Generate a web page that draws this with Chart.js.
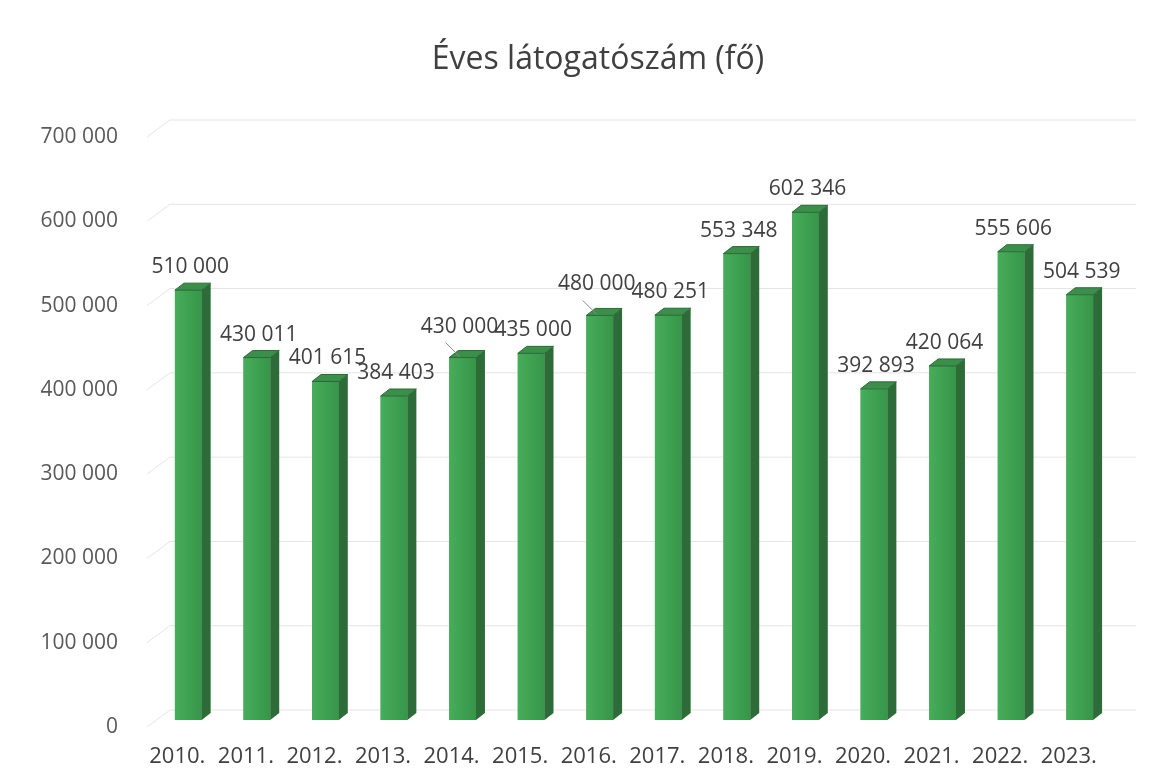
<!DOCTYPE html>
<html lang="hu">
<head>
  <meta charset="UTF-8">
  <title>Éves látogatószám (fő)</title>
  <script src="https://cdn.jsdelivr.net/npm/chart.js"></script>
  <style>
    html, body { margin: 0; padding: 0; background: #fff; }
    #wrap { width: 1167px; height: 784px; }
  </style>
</head>
<body>
  <div id="wrap"><canvas id="visitorChart"></canvas></div>

  <script>
    const years = ['2010.', '2011.', '2012.', '2013.', '2014.', '2015.', '2016.',
                   '2017.', '2018.', '2019.', '2020.', '2021.', '2022.', '2023.'];
    const visitors = [510000, 430011, 401615, 384403, 430000, 435000, 480000,
                      480251, 553348, 602346, 392893, 420064, 555606, 504539];
    const yTicks = [0, 100000, 200000, 300000, 400000, 500000, 600000, 700000];
    // labels that Excel pushed up and joined with a leader line
    const leaderLabels = [4, 6];

    const fmt = v => String(v).replace(/\B(?=(\d{3})+(?!\d))/g, ' ');
    const FONT = "'Open Sans', 'Noto Sans', sans-serif";

    // back-wall gridlines with the slanted left wall edge
    const wallGrid = {
      id: 'wallGrid',
      beforeDatasetsDraw(chart) {
        const { ctx, chartArea, scales: { y } } = chart;
        ctx.save();
        ctx.strokeStyle = '#e4e4e4';
        ctx.lineWidth = 1;
        yTicks.forEach(v => {
          const p = y.getPixelForValue(v);
          ctx.beginPath();
          ctx.moveTo(chartArea.left - 7, p + 7);
          ctx.lineTo(chartArea.left + 16, p - 10);
          ctx.lineTo(chartArea.right + 22, p - 10);
          ctx.stroke();
        });
        ctx.restore();
      }
    };

    // fake 3D: side and top faces, plus the value labels
    const bars3d = {
      id: 'bars3d',
      afterDatasetsDraw(chart) {
        const { ctx } = chart;
        const meta = chart.getDatasetMeta(0);
        const dx = 9, dy = 7;
        ctx.save();
        meta.data.forEach((bar, i) => {
          const { x, y, base, width } = bar.getProps(['x', 'y', 'base', 'width'], true);
          const l = x - width / 2, r = x + width / 2;

          // front face shading
          const g = ctx.createLinearGradient(l, 0, r, 0);
          g.addColorStop(0, '#46ad5a');
          g.addColorStop(1, '#379549');
          ctx.fillStyle = g;
          ctx.fillRect(l, y, width, base - y);

          ctx.fillStyle = '#2d6b39';
          ctx.beginPath();
          ctx.moveTo(r, y);
          ctx.lineTo(r + dx, y - dy);
          ctx.lineTo(r + dx, base - dy);
          ctx.lineTo(r, base);
          ctx.closePath();
          ctx.fill();

          ctx.fillStyle = '#3c8f4b';
          ctx.beginPath();
          ctx.moveTo(l, y);
          ctx.lineTo(l + dx, y - dy);
          ctx.lineTo(r + dx, y - dy);
          ctx.lineTo(r, y);
          ctx.closePath();
          ctx.fill();
          ctx.strokeStyle = '#2a6a36';
          ctx.lineWidth = 1;
          ctx.stroke();

          let lx = x + 2, ly = y - 23;
          if (leaderLabels.includes(i)) {
            lx = x - 3;
            ly = y - 31;
            ctx.strokeStyle = '#8a8a8a';
            ctx.beginPath();
            ctx.moveTo(lx - 14, ly + 16);
            ctx.lineTo(x - 3, y - 1);
            ctx.stroke();
          }
          ctx.fillStyle = '#404040';
          ctx.font = '21px ' + FONT;
          ctx.textAlign = 'center';
          ctx.textBaseline = 'middle';
          ctx.fillText(fmt(visitors[i]), lx, ly);
        });

        ctx.fillStyle = '#404040';
        ctx.font = '32px ' + FONT;
        ctx.textAlign = 'center';
        ctx.textBaseline = 'middle';
        ctx.fillText('Éves látogatószám (fő)', 598, 60);
        ctx.restore();
      }
    };

    const ctx = document.getElementById('visitorChart').getContext('2d');
    new Chart(ctx, {
      type: 'bar',
      data: {
        labels: years,
        datasets: [{
          data: visitors,
          backgroundColor: '#3d9b4e',
          borderWidth: 0,
          barPercentage: 0.39,
          categoryPercentage: 1
        }]
      },
      plugins: [wallGrid, bars3d],
      options: {
        responsive: true,
        maintainAspectRatio: false,
        animation: false,
        layout: { padding: { top: 130, right: 53, bottom: 0, left: 0 } },
        plugins: {
          legend: { display: false },
          title: { display: false },
          tooltip: { enabled: false }
        },
        scales: {
          x: {
            afterFit(scale) { scale.height = 64; },
            grid: { display: false, drawTicks: false },
            border: { display: false },
            ticks: {
              color: '#404040',
              padding: 24,
              labelOffset: -11,
              font: { family: FONT, size: 22 }
            }
          },
          y: {
            min: 0,
            max: 700000,
            afterFit(scale) { scale.width = 154; },
            afterBuildTicks(scale) { scale.ticks = yTicks.map(v => ({ value: v })); },
            grid: { display: false, drawTicks: false },
            border: { display: false },
            ticks: {
              color: '#595959',
              padding: 36,
              labelOffset: 7,
              font: { family: FONT, size: 21 },
              callback: v => fmt(v)
            }
          }
        }
      }
    });
  </script>
</body>
</html>
